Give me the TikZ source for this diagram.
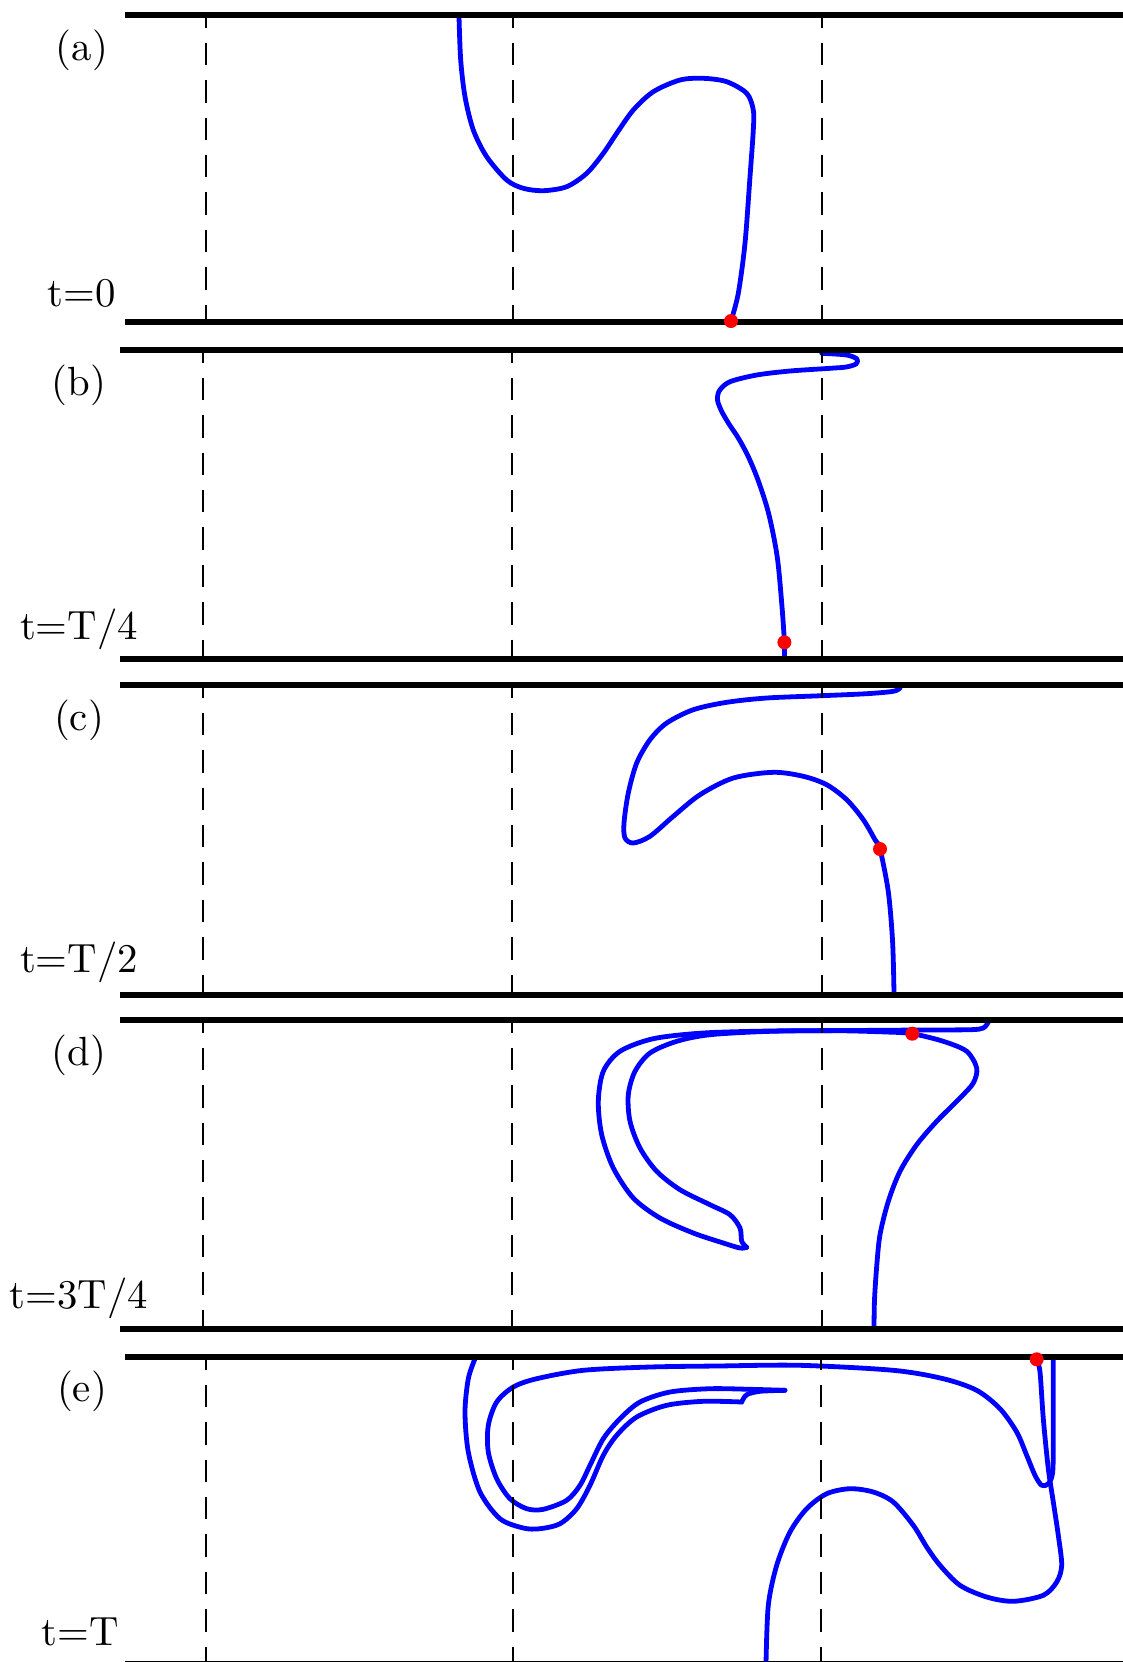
\documentclass[tikz,border=0pt]{standalone}
\usepackage{tikz}
\definecolor{PlotBlue}{HTML}{0000FF}
\definecolor{PlotRed}{HTML}{FF0000}
\definecolor{PlotDark}{HTML}{000000}
\newcommand{\PanelText}{\fontsize{10.2}{12}\selectfont}
\tikzset{
  wallline/.style={
    draw=PlotDark,
    line width=1.6pt
  },
  gridline/.style={
    draw=PlotDark,
    line width=0.5pt,
    dash pattern=on 5.6pt off 3.75pt,
    dash phase=2.4pt
  },
  tracer/.style={
    draw=PlotBlue,
    line width=1.2pt,
    line join=round,
    line cap=round
  },
  tracerdot/.style={
    circle,
    fill=PlotRed,
    inner sep=0pt,
    minimum size=3.5pt
  },
  panellabel/.style={
    anchor=base,
    inner sep=0pt,
    text=PlotDark,
    font=\PanelText
  }
}

\begin{document}
\begin{tikzpicture}[x=0.25pt,y=-0.25pt]
\path[use as bounding box] (0,0) rectangle (1123,1662);

% panel (a), t=0
\draw[tracer] plot[smooth] coordinates {(459,16.7) (460.7,60) (465,96.7) (473.3,130) (486.7,156.7) (506.7,180)
  (523.3,188.3) (543.3,190.7) (566.7,186.7) (586.7,173.3) (603.3,153.3) (616.7,133.3) (633.3,110) (653.3,91.7)
  (680,80) (703.3,78.3) (726.7,81.7) (746.7,93.3) (753.3,110) (753.3,130) (750,176.7) (745,243.3) (738.3,293.3) (731,321)};
\draw[gridline] (205.5,15) -- (205.5,322);
\draw[gridline] (512.5,15) -- (512.5,322);
\draw[gridline] (821.5,15) -- (821.5,322);
\draw[wallline] (125,15) -- (1123,15);
\draw[wallline] (125,322) -- (1123,322);
\node[tracerdot] (dota) at (731,321) {};
\node[panellabel] (laba) at (82,60) {(a)};
\node[panellabel] (timea) at (82,306) {t=0};

% panel (b), t=T/4
\draw[tracer] plot[smooth] coordinates {(821.7,353.3) (846.7,355) (857,359) (856,364) (846,367) (830,368.3)
  (790,371) (756.7,375) (730,381.7) (719.5,390.5) (717.5,400) (721.5,411) (729,424) (738.3,438) (748,456) (758,480)
  (768.6,513.3) (777.2,556.7) (782,606.7) (784.4,642.3) (784.4,657)};
\draw[gridline] (202.5,350) -- (202.5,659);
\draw[gridline] (512,350) -- (512,659);
\draw[gridline] (821.5,350) -- (821.5,659);
\draw[wallline] (120,350) -- (1123,350);
\draw[wallline] (120,659) -- (1123,659);
\node[tracerdot] (dotb) at (784.4,642.3) {};
\node[panellabel] (labb) at (79,395) {(b)};
\node[panellabel] (timeb) at (79,639) {t=T/4};

% panel (c), t=T/2
\draw[tracer] plot[smooth] coordinates {(900,688) (893.3,691.3) (866.7,693.7) (821.7,695.7) (766.7,698)
  (726.7,702.3) (693.3,709.7) (666.7,723) (650,739.7) (636.7,763) (628.3,793) (624,823) (625,838) (633.3,843)
  (650,836.3) (673.3,816.3) (700,794.7) (733.3,778) (773.3,772.3) (803.3,776.3) (826.7,784.7) (846.7,799.7)
  (863.3,819.7) (875,839.7) (880,849) (888.3,891.7) (892.6,941.7) (894,993)};
\draw[gridline] (202.5,685) -- (202.5,995);
\draw[gridline] (512,685) -- (512,995);
\draw[gridline] (821.5,685) -- (821.5,995);
\draw[wallline] (120,685) -- (1123,685);
\draw[wallline] (120,995) -- (1123,995);
\node[tracerdot] (dotc) at (880,849) {};
\node[panellabel] (labc) at (79,730) {(c)};
\node[panellabel] (timec) at (79,972) {t=T/2};

% panel (d), t=3T/4
\draw[tracer] plot[smooth] coordinates {(988.3,1022) (983.3,1028) (970,1029.7) (920,1030) (850,1030.5)
  (770,1031) (703.3,1033) (653.3,1038.7) (620,1051.3) (603.3,1071.3) (598.3,1101.3) (601.7,1134.7) (613.3,1168)
  (633.3,1198) (660,1218) (693.3,1233) (723.3,1243) (740,1248) (746.7,1247.3)};
\draw[tracer] plot[smooth] coordinates {(746.7,1247.3) (741.7,1241.3) (740,1228) (730,1214.7) (710,1204.7)
  (680,1189.7) (656.7,1171.3) (640,1148) (630,1121.3) (628.3,1094.7) (635,1071.3) (650,1053) (676.7,1041.3)
  (710,1034.7) (770,1031.3) (836.7,1030.7) (886.7,1032) (912.3,1033.7) (943.3,1041.3) (966.7,1051.3)
  (976.7,1068) (973.3,1083) (960,1098) (936.7,1121.3) (916.7,1144.7) (900,1171.3) (888.3,1201.3) (880,1234.7)
  (876.7,1266.3) (874.5,1300) (874,1329)};
\draw[gridline] (202.5,1020) -- (202.5,1329);
\draw[gridline] (512,1020) -- (512,1329);
\draw[gridline] (821.5,1020) -- (821.5,1329);
\draw[wallline] (120,1020) -- (1123,1020);
\draw[wallline] (120,1329) -- (1123,1329);
\node[tracerdot] (dotd) at (912.3,1033.7) {};
\node[panellabel] (labd) at (79,1065) {(d)};
\node[panellabel] (timed) at (79,1308) {t=3T/4};

% panel (e), t=T
\draw[tracer] plot[smooth] coordinates {(475,1358.7) (468.3,1378.7) (465,1412) (468.3,1452) (480,1492)
  (500,1518.7) (523.3,1528) (540,1528.7) (560,1523.7) (576.7,1508.7) (590,1485.3) (603.3,1455.3) (616.7,1435.3)
  (636.7,1417) (666.7,1405.3) (703.3,1401.3) (741.7,1402)};
\draw[tracer] plot[smooth] coordinates {(741.7,1402) (746.7,1394.7) (760,1391.3) (785,1390.3)};
\draw[tracer] plot[smooth] coordinates {(785,1390.3) (750,1389.3) (710,1388.7) (670,1392) (640,1402)
  (620,1418.7) (603.3,1438.7) (590,1465.3) (580,1485.3) (566.7,1500.3) (543.3,1509.3) (526.7,1508.7)
  (510,1498.7) (496.7,1478.7) (488.3,1452) (488.3,1425.3) (496.7,1402) (513.3,1387) (536.7,1378.7)
  (583.3,1370.3) (650,1367) (716.7,1366) (800,1365.3) (893.3,1370.3) (943.3,1378.7) (976.7,1390.3)
  (1000,1408.7) (1016.7,1432) (1026.7,1455.3) (1035,1475.3) (1041.7,1485.3) (1048.3,1483.7) (1052.7,1472)
  (1053.3,1435.3) (1053.3,1385.3) (1053.3,1360)};
\draw[tracer] plot[smooth] coordinates {(1036.7,1359.3) (1040,1372) (1043.3,1418.7) (1048.3,1468.7)
  (1053.3,1502) (1058.3,1535.3) (1061.7,1565.3) (1056.7,1582) (1043.3,1595.3) (1013.3,1601.3) (986.7,1597)
  (960,1585.3) (940,1565.3) (926.7,1547) (913.3,1525.3) (893.3,1502) (873.3,1492) (850,1488.7) (826.7,1493.7)
  (806.7,1508.7) (790,1532) (776.7,1565.3) (768.3,1605.3) (766,1664)};
\draw[gridline] (205.5,1357) -- (205.5,1664);
\draw[gridline] (512.5,1357) -- (512.5,1664);
\draw[gridline] (821,1357) -- (821,1664);
\draw[wallline] (125,1357) -- (1123,1357);
\draw[wallline] (125,1664) -- (1123,1664);
\node[tracerdot] (dote) at (1036.7,1359.3) {};
\node[panellabel] (labe) at (82,1401) {(e)};
\node[panellabel] (timee) at (80,1645) {t=T};

\end{tikzpicture}
\end{document}
